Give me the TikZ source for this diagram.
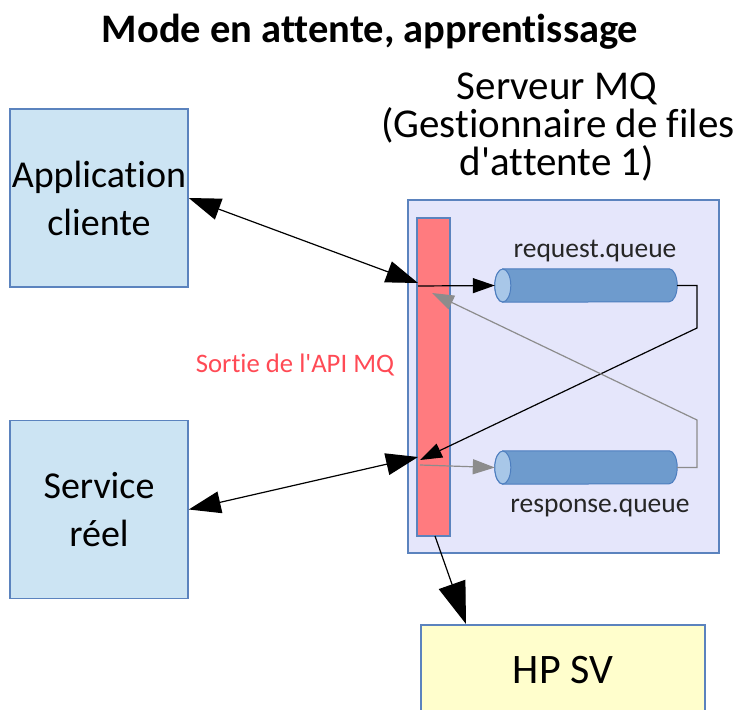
\documentclass[tikz,border=0pt]{standalone}
\usepackage{fontspec}
\setmainfont{Carlito}[Ligatures={NoCommon}]
\usetikzlibrary{arrows.meta}
\definecolor{boxfill}{HTML}{CCE4F3}
\definecolor{boxline}{HTML}{5B83BE}
\definecolor{srvfill}{HTML}{E5E6FB}
\definecolor{barfill}{HTML}{FF7B7F}
\definecolor{cylbody}{HTML}{6E9BCD}
\definecolor{cylend}{HTML}{A8C7E8}
\definecolor{cylline}{HTML}{4D7EBF}
\definecolor{hpfill}{HTML}{FFFECC}
\definecolor{redtext}{HTML}{FF4A55}
\definecolor{grayline}{HTML}{8C8C8C}
\newcommand\drawqueue[1]{%
  \path[fill=cylbody, draw=cylline, line width=1pt]
    ([xshift=8pt]#1.north west) -- ([xshift=-8pt]#1.north east)
    arc[start angle=90, end angle=-90, x radius=8pt, y radius=16.5pt]
    -- ([xshift=8pt]#1.south west)
    arc[start angle=270, end angle=90, x radius=8pt, y radius=16.5pt] -- cycle;
  \path[fill=cylend, draw=cylline, line width=1pt]
    ([xshift=8pt]#1.west) ellipse[x radius=8pt, y radius=16.5pt];
}
\begin{document}
\begin{tikzpicture}[x=1pt,y=-1pt,
  bluebox/.style={draw=boxline, line width=1.5pt, fill=boxfill, minimum width=178pt, minimum height=178pt, align=center, font=\fontsize{38}{48}\selectfont, inner sep=0pt},
  queue/.style={minimum width=182pt, minimum height=33pt, inner sep=0pt},
  qlabel/.style={anchor=base, font=\fontsize{27.5}{30}\selectfont, text=black!85},
  bigline/.style={line width=1.2pt, black},
  dblarrow/.style={bigline, {Triangle[length=32pt,width=22pt]}-{Triangle[length=32pt,width=22pt]}},
  smallarrow/.style={line width=1.2pt, -{Triangle[length=22pt,width=15pt]}},
]
\useasboundingbox (0,0) rectangle (740,710);
\clip (0,0) rectangle (740,710);
% title
\node[anchor=base, font=\bfseries\fontsize{40.5}{44}\selectfont] (title) at (370,42) {Mode en attente, apprentissage};
% server label
\node[anchor=base, font=\fontsize{41}{38}\selectfont] (srvl1) at (557,99) {Serveur MQ};
\node[anchor=base, font=\fontsize{41}{38}\selectfont] (srvl2) at (558,137) {(Gestionnaire de files};
\node[anchor=base, font=\fontsize{41}{38}\selectfont] (srvl3) at (557,175) {d\textquotesingle attente 1)};
% boxes
\node[bluebox] (app) at (99,198) {Application\\cliente};
\node[bluebox] (svc) at (99,509.5) {Service\\réel};
\node[draw=boxline, line width=1.5pt, fill=srvfill, minimum width=311pt, minimum height=353pt, inner sep=0pt] (server) at (563.5,376.5) {};
\node[draw=boxline, line width=1.2pt, fill=barfill, minimum width=33pt, minimum height=318pt, inner sep=0pt] (bar) at (433.5,377) {};
\node[queue] (req) at (586,285.5) {};
\node[queue] (resp) at (586,467.5) {};
\drawqueue{req}
\drawqueue{resp}
\node[qlabel] (reql) at (595,257) {request.queue};
\node[qlabel] (respl) at (600,512) {response.queue};
\node[anchor=base, font=\fontsize{26.7}{30}\selectfont, text=redtext] (api) at (295,372) {Sortie de l\textquotesingle API MQ};
\node[draw=boxline, line width=1.5pt, fill=hpfill, minimum width=284pt, minimum height=100pt, inner sep=0pt, anchor=north] (hpsv) at (563,624) {};
\node[anchor=base, font=\fontsize{42}{44}\selectfont] (hpsvt) at (563,683) {HP SV};
% coordinates on the API bar
\coordinate (barA) at (418,283);
\coordinate (barR) at (418,286);
\coordinate (barB) at (420,460);
\coordinate (barC) at (432,293);
\coordinate (barD) at (420,465);
\coordinate (barE) at (418,457);
\coordinate (barF) at (435,536);
\coordinate (rt) at (697,328);
\coordinate (rb) at (697,420);
\coordinate (hpT) at (466,624);
% connectors
\draw[dblarrow] (app.east) -- (barA);
\draw[dblarrow] (svc.east) -- (barE);
\draw[smallarrow, black] (barR) -- (req.west);
\draw[smallarrow, black] (req.east) -| (rt) -- (barB);
\draw[smallarrow, grayline] (resp.east) -| (rb) -- (barC);
\draw[smallarrow, grayline] (barD) -- (resp.west);
\draw[bigline, -{Triangle[length=42pt,width=28pt]}] (barF) -- (hpT);
\end{tikzpicture}
\end{document}
